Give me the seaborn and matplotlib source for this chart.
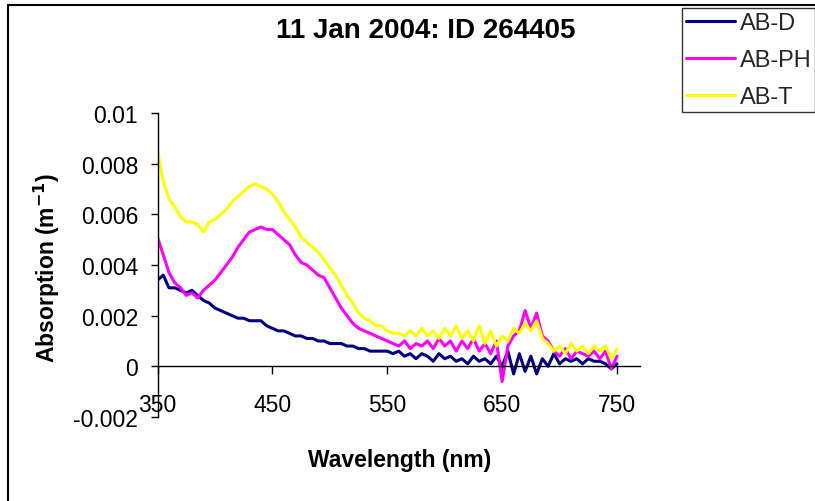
import matplotlib.pyplot as plt
from matplotlib.patches import Rectangle
import seaborn as sns
import pandas as pd
import numpy as np

# wavelength grid (nm)
wavelength = list(range(350, 755, 5))

ab_d = [
    0.0034, 0.0036, 0.0031, 0.0031, 0.0030, 0.0029, 0.0030, 0.0028, 0.0026, 0.0025,
    0.0023, 0.0022, 0.0021, 0.0020, 0.0019, 0.0019, 0.0018, 0.0018, 0.0018, 0.0016,
    0.0015, 0.0014, 0.0014, 0.0013, 0.0012, 0.0012, 0.0011, 0.0011, 0.0010, 0.0010,
    0.0009, 0.0009, 0.0009, 0.0008, 0.0008, 0.0007, 0.0007, 0.0006, 0.0006, 0.0006,
    0.0006, 0.0005, 0.0006, 0.0004, 0.0005, 0.0003, 0.0005, 0.0004, 0.0002, 0.0005,
    0.0003, 0.0004, 0.0002, 0.0003, 0.0001, 0.0004, 0.0002, 0.0003, 0.0001, 0.0004,
    0.0000, 0.0006, -0.0003, 0.0005, -0.0002, 0.0004, -0.0003, 0.0003, 0.0000, 0.0005,
    0.0001, 0.0003, 0.0002, 0.0003, 0.0001, 0.0003, 0.0002, 0.0002, 0.0001, -0.0001,
    0.0001,
]

ab_ph = [
    0.0051, 0.0044, 0.0037, 0.0033, 0.0031, 0.0028, 0.0029, 0.0027, 0.0030, 0.0032,
    0.0034, 0.0037, 0.0040, 0.0043, 0.0047, 0.0050, 0.0053, 0.0054, 0.0055, 0.0054,
    0.0054, 0.0052, 0.0050, 0.0048, 0.0044, 0.0041, 0.0040, 0.0038, 0.0036, 0.0035,
    0.0031, 0.0027, 0.0023, 0.0020, 0.0017, 0.0015, 0.0014, 0.0013, 0.0012, 0.0011,
    0.0010, 0.0009, 0.0008, 0.0010, 0.0007, 0.0009, 0.0008, 0.0010, 0.0007, 0.0011,
    0.0008, 0.0010, 0.0006, 0.0010, 0.0007, 0.0011, 0.0006, 0.0009, 0.0005, 0.0010,
    -0.0006, 0.0008, 0.0012, 0.0014, 0.0022, 0.0015, 0.0021, 0.0012, 0.0010, 0.0006,
    0.0004, 0.0007, 0.0003, 0.0006, 0.0005, 0.0004, 0.0006, 0.0003, 0.0006, -0.0001,
    0.0004,
]

ab_t = [
    0.0085, 0.0073, 0.0066, 0.0063, 0.0059, 0.0057, 0.0057, 0.0056, 0.0053, 0.0057,
    0.0058, 0.0060, 0.0062, 0.0065, 0.0067, 0.0069, 0.0071, 0.0072, 0.0071, 0.0070,
    0.0068, 0.0065, 0.0061, 0.0058, 0.0055, 0.0051, 0.0049, 0.0047, 0.0045, 0.0042,
    0.0039, 0.0036, 0.0032, 0.0028, 0.0025, 0.0021, 0.0019, 0.0018, 0.0016, 0.0016,
    0.0014, 0.0013, 0.0013, 0.0012, 0.0014, 0.0012, 0.0015, 0.0012, 0.0014, 0.0011,
    0.0015, 0.0012, 0.0016, 0.0011, 0.0014, 0.0010, 0.0016, 0.0009, 0.0014, 0.0008,
    0.0012, 0.0010, 0.0015, 0.0013, 0.0017, 0.0014, 0.0018, 0.0011, 0.0009, 0.0006,
    0.0008, 0.0005, 0.0009, 0.0006, 0.0008, 0.0005, 0.0008, 0.0006, 0.0008, 0.0003,
    0.0007,
]

series_names = ["AB-D", "AB-PH", "AB-T"]
series_colors = ["#000080", "#FF00FF", "#FFFF00"]
x_ticks = [350, 450, 550, 650, 750]
y_ticks = [-0.002, 0, 0.002, 0.004, 0.006, 0.008, 0.01]
y_tick_labels = ["-0.002", "0", "0.002", "0.004", "0.006", "0.008", "0.01"]

df = pd.concat([
    pd.DataFrame({"wavelength": wavelength, "absorption": vals, "series": name})
    for name, vals in zip(series_names, [ab_d, ab_ph, ab_t])
])

sns.set_theme(style="white")
plt.rcParams["font.family"] = ["Liberation Sans", "DejaVu Sans"]
plt.rcParams["axes.unicode_minus"] = False

W, H = 815, 502
fig = plt.figure(figsize=(W / 100, H / 100), dpi=100)
ax = fig.add_axes([157.5 / W, (H - 418) / H, (640 - 157.5) / W, (418 - 114) / H])

sns.lineplot(data=df, x="wavelength", y="absorption", hue="series",
             hue_order=series_names, palette=series_colors, linewidth=2.2,
             legend=False, ax=ax)

ax.set_xlim(350, 770)
ax.set_ylim(-0.002, 0.01)
ax.set_xticks(x_ticks)
ax.set_xticklabels([str(t) for t in x_ticks])
ax.set_yticks(y_ticks)
ax.set_yticklabels(y_tick_labels)

for s in ["top", "right"]:
    ax.spines[s].set_visible(False)
ax.spines["bottom"].set_position(("data", 0))
for s in ["left", "bottom"]:
    ax.spines[s].set_color("black")
    ax.spines[s].set_linewidth(1.0)

ax.tick_params(axis="x", bottom=True, direction="out", length=6, width=1,
               color="black", labelsize=16.5, pad=13.5, labelcolor="black")
ax.tick_params(axis="y", left=True, direction="out", length=5, width=1,
               color="black", labelsize=16.5, pad=9, labelcolor="black")

ax.set_xlabel("Wavelength (nm)", fontsize=16.5, fontweight="bold", color="black")
ax.set_ylabel("Absorption (m$^{\\mathbf{-1}}$)", fontsize=16.5, fontweight="bold",
              color="black")
ax.xaxis.label.set_va("center")
ax.xaxis.set_label_coords(0.5016, -0.141)
ax.yaxis.label.set_va("center")
ax.yaxis.set_label_coords(-0.229, 0.495)

fig.suptitle("11 Jan 2004: ID 264405", x=426 / W, y=1 - 31 / H, va="center",
             fontsize=20, fontweight="bold", color="black")

handles = ax.get_lines()[:3]
leg = fig.legend(handles, series_names, loc="lower left",
                 bbox_to_anchor=(682 / W, 1 - 113 / H), borderaxespad=0,
                 fontsize=17, handlelength=2.1, handletextpad=0.2,
                 labelspacing=0.65, borderpad=0.15, frameon=True, fancybox=False)
leg.get_frame().set_edgecolor("black")
leg.get_frame().set_linewidth(1.0)
for line in leg.get_lines():
    line.set_linewidth(2.2)

# chart-area border (Excel style), runs off the right and bottom edges
fig.add_artist(Rectangle((8 / W, -0.1), 1.2, 1.1 - 6 / H, fill=False,
                         edgecolor="black", linewidth=1.5,
                         transform=fig.transFigure))

fig.savefig("out.png", dpi=100)
